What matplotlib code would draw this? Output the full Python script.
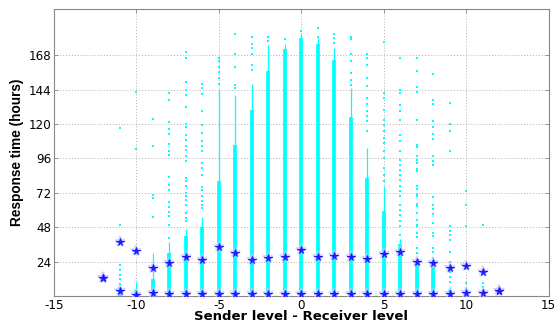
import matplotlib
matplotlib.use("Agg")
import matplotlib.pyplot as plt

# level difference (sender - receiver)
levels = list(range(-12, 13))

# top of the dense (thick) part of each column, hours
thick_top = [0, 6, 4, 12, 30, 42, 48, 80, 105, 130, 157, 172, 180,
             176, 165, 125, 82, 59, 36, 22, 20, 4, 3, 0, 0]
# top of the thinner continuous part, hours
thin_top = [0, 6, 10, 30, 38, 47, 55, 144, 140, 148, 175, 176, 183,
            180, 173, 145, 103, 77, 40, 26, 24, 6.5, 6.5, 2, 0]
# sparse response times above the continuous part
sparse = [
    [12.4],
    [117.5, 49.6, 21.7, 18.2, 14.7, 11.7, 8.5],
    [142.4, 102.3],
    [123.5, 104.9, 70.2, 68.3, 55],
    [141.7, 137, 121.4, 116.6, 113, 106, 101.4, 98.1, 82.7, 77.6, 73.9,
     65.3, 61.8, 58.5, 55.5, 49.7, 40.3],
    [170, 166, 149, 143.4, 140, 131.7, 120, 118, 112.6, 109, 104.9, 101.6,
     98, 94, 82.3, 80, 76.5, 71.8, 69.5, 67, 63.6, 57.8, 54.3, 52],
    [148, 145, 141, 129, 119.6, 113.8, 108, 104.4, 101, 93, 89, 84.6,
     75.8, 74, 69.5, 66, 63.6, 61.3],
    [166, 164, 160, 156, 152, 148],
    [182.5, 168.5, 160, 147.5, 145],
    [181, 175.5, 173, 168.5, 161.5, 158],
    [180.9, 178],
    [179],
    [185],
    [187, 181],
    [183, 180, 176.7],
    [181, 179, 168.5, 164, 155.7, 151, 147.5],
    [169, 166, 161.5, 152.3, 146.5, 138, 134, 129, 125.4, 122, 115],
    [177, 141.8, 138, 130, 123, 119.6, 115, 110, 106.8, 101, 96.3, 89,
     84.6, 80],
    [166, 144, 141.8, 133.6, 129, 123, 112.6, 108, 101, 95, 91.6, 88, 84.6,
     81, 76.5, 73, 69.5, 63.6, 60, 56.6, 52, 48.5, 42.7],
    [165.7, 156.8, 146, 142.4, 123, 105.6, 103.7, 97.4, 95, 92.8, 88.6, 87,
     76.5, 74.8, 71, 69.5, 64.1, 62.5, 57.8, 53.1, 49.7, 48.5, 43.8, 41.5,
     33.3, 29.8],
    [155, 137, 134, 122, 117.7, 113, 109.6, 98, 94.4, 91.6, 68.8, 63.6,
     60.6, 57, 50.8, 43.8, 42, 33.8, 30.5, 26.3],
    [135, 120, 115, 101.4, 48.5, 45.5, 42.7, 39.2, 31, 24, 20.5, 17, 13.5,
     10],
    [73, 63.6, 48.5, 21.7, 8.9],
    [49.7, 8.9, 6.5, 4.2],
    [3.3],
]
mean_time = [12.4, 37.5, 31.5, 19.5, 22.9, 27.5, 24.8, 34.1, 30.3, 25.4,
             26.8, 26.9, 32.2, 27.1, 27.9, 27.5, 25.7, 29.1, 30.4, 23.6,
             22.8, 19.3, 21.0, 17.0, 3.4]
median_time = [12.4, 3.5, 0.5, 1.9, 1.2, 1.2, 1.2, 1.2, 1.2, 1.2, 1.2, 1.2,
               1.2, 1.2, 1.2, 1.2, 1.2, 1.2, 1.2, 1.2, 1.2, 1.2, 2.2, 2.4, 3.4]

xticks = [-15, -10, -5, 0, 5, 10, 15]
yticks = [24, 48, 72, 96, 120, 144, 168]

fig = plt.figure(figsize=(5.59, 3.23), dpi=100)
ax = fig.add_axes([0.0966, 0.0836, 0.885, 0.8875])

cyan = (0, 1, 1)
ax.vlines(levels, 0, thin_top, color=cyan, linewidth=0.9, zorder=2)
ax.vlines(levels, 0, thick_top, color=cyan, linewidth=2.7, zorder=2)
for lv, pts in zip(levels, sparse):
    ax.plot([lv] * len(pts), pts, 's', color=cyan, markersize=1.6,
            markeredgewidth=0, zorder=2)

# stars with a soft halo like the original rendering
for vals in (mean_time, median_time):
    ax.plot(levels, vals, '*', color='#c4c4ff', markersize=8,
            markeredgewidth=1.6, linestyle='none', alpha=0.6, zorder=3)
    ax.plot(levels, vals, '*', color='#1a1aff', markersize=5.5,
            markeredgewidth=0.7, linestyle='none', zorder=4)

ax.set_xlim(-15, 15)
ax.set_ylim(0, 200)
ax.set_xticks(xticks)
ax.set_yticks(yticks)
ax.set_xticklabels([str(t) for t in xticks])
ax.tick_params(direction='in', length=3, width=0.6, color='#888888',
               labelsize=8.6, top=True, right=True)
ax.tick_params(axis='x', pad=2.5)
ax.tick_params(axis='y', pad=2)
ax.grid(True, linestyle=(0, (1, 2)), color='#b0b0b0', linewidth=0.7)
ax.set_axisbelow(True)
for s in ax.spines.values():
    s.set_color('#888888')
    s.set_linewidth(0.8)

ax.set_xlabel('Sender level - Receiver level', fontsize=9.5,
              fontweight='bold', va='baseline')
ax.xaxis.set_label_coords(0.5, -0.084)
ax.set_ylabel('Response time (hours)', fontsize=9.8, fontweight='bold',
              family='Liberation Sans', labelpad=3)

plt.savefig('out.png', dpi=100, facecolor='white')
plt.close()
